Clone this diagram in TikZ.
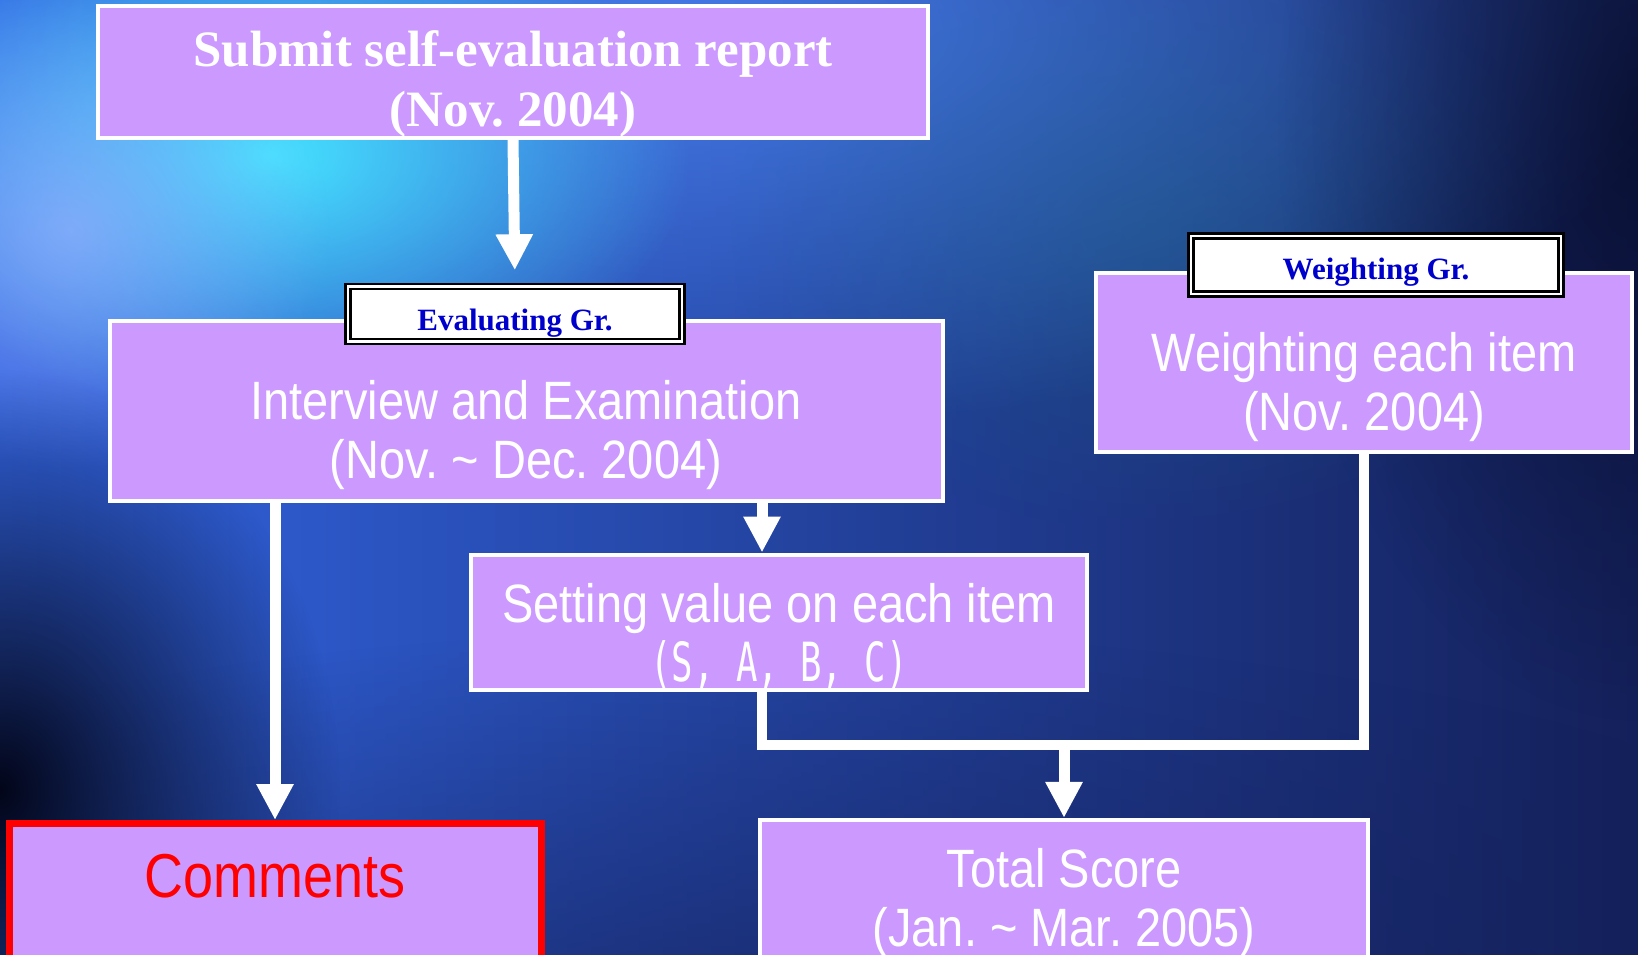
\documentclass[tikz,border=0pt]{standalone}
\usepackage{fontspec}
\setmainfont{Liberation Serif}
\newfontfamily\narrowsans[FakeStretch=0.87]{Liberation Sans}
\newfontfamily\monofnt[FakeStretch=0.66]{DejaVu Sans Mono}
\usetikzlibrary{arrows.meta,fadings}
\definecolor{boxP}{HTML}{CC99FF}
\definecolor{grpB}{HTML}{0000CC}
\definecolor{cmtR}{HTML}{FF0000}
\definecolor{bgL}{HTML}{3264E0}
\definecolor{bgM}{HTML}{2448C0}
\definecolor{bgR}{HTML}{14205A}
\definecolor{bgT}{HTML}{4C86F5}
\definecolor{glw}{HTML}{45E3FF}
\definecolor{lav}{HTML}{9AB0FF}
\definecolor{dk}{HTML}{03061A}
\definecolor{tl}{HTML}{1E6A8A}
\tikzfading[name=soft, inner color=transparent!0, outer color=transparent!100]
\tikzset{
  pbox/.style={draw=white, fill=boxP, line width=4pt, inner sep=0pt, text=white, align=center},
  grp/.style={draw=black, double=white, double distance=2.5pt, line width=2.5pt, fill=white,
    text=grpB, font=\fontsize{31}{34}\selectfont\bfseries, inner sep=0pt},
  arr/.style={draw=white, line width=11pt, -{Triangle[length=36pt,width=35pt]}},
  wire/.style={draw=white, line width=10pt},
  ttl/.style={font=\fontsize{51}{60}\selectfont\bfseries},
  body/.style={font=\narrowsans\fontsize{54}{59}\selectfont},
}

\begin{document}
\begin{tikzpicture}[x=1pt,y=-1pt]
\useasboundingbox (0,0) rectangle (1638,955);

% background
\shade[left color=bgL, middle color=bgM, right color=bgR] (0,0) rectangle (1638,955);
\fill[bgT, opacity=.8, path fading=soft] (700,30) ellipse (1000 and 400);
\fill[tl, opacity=.4, path fading=soft] (1150,230) ellipse (420 and 300);
\fill[glw, path fading=soft] (270,155) ellipse (420 and 260);
\fill[lav, opacity=.7, path fading=soft] (70,230) ellipse (260 and 240);
\fill[bgR, opacity=.7, path fading=soft] (750,1050) ellipse (1300 and 420);
\fill[dk, path fading=soft] (0,790) ellipse (340 and 420);
\fill[dk, opacity=.6, path fading=soft] (1638,120) ellipse (360 and 600);

% boxes
\node[pbox, ttl, minimum width=830, minimum height=132] (submit) at (513,72)
  {\rule{0pt}{59pt}Submit self-evaluation report\\(Nov.\ 2004)};
\node[pbox, body, minimum width=833, minimum height=180] (interv) at (526,411)
  {\rule{0pt}{88pt}Interview and Examination\\(Nov.\ \textasciitilde{} Dec.\ 2004)};
\node[pbox, body, minimum width=536, minimum height=179] (weigh) at (1364,362)
  {\rule{0pt}{89pt}Weighting each item\\(Nov.\ 2004)};
\node[pbox, body, minimum width=616, minimum height=135] (setv) at (779,622)
  {\rule{0pt}{68pt}Setting value on each item\\{\monofnt (S, A, B, C)}};
\node[pbox, body, draw=cmtR, line width=7pt, text=cmtR, font=\narrowsans\fontsize{62}{66}\selectfont,
  minimum width=532, minimum height=135] (comm) at (275,891)
  {Comments\rule[-30pt]{0pt}{30pt}};
\node[pbox, body, minimum width=608, minimum height=137] (total) at (1064,889)
  {\rule{0pt}{68pt}Total Score\\(Jan.\ \textasciitilde{} Mar.\ 2005)};

% group labels
\node[grp, minimum width=334, minimum height=55] (evallab) at (515,314)
  {\rule{0pt}{39pt}Evaluating Gr.};
\node[grp, minimum width=370, minimum height=58] (weighlab) at (1376,265)
  {\rule{0pt}{36pt}Weighting Gr.};

% connectors
\coordinate (c1) at (762,745);
\draw[arr, shorten >=15pt] (submit.south) -- (evallab.north);
\draw[arr] (interv.south -| c1) -- (setv.north -| c1);
\draw[arr] (interv.south -| comm.north) -- (comm.north);
\draw[wire] (setv.south -| c1) -- (c1) -- (c1 -| weigh.south) -- (weigh.south);
\draw[arr] (c1 -| total.north) -- (total.north);

\end{tikzpicture}
\end{document}
